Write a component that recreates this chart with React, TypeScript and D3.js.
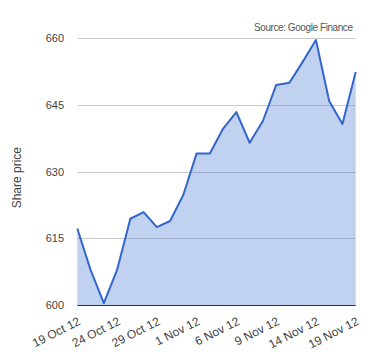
import React, { useEffect, useRef } from 'react';
import * as d3 from 'd3';

const dates: string[] = [
  '19 Oct 12', '22 Oct 12', '23 Oct 12', '24 Oct 12', '25 Oct 12', '26 Oct 12',
  '29 Oct 12', '30 Oct 12', '31 Oct 12', '1 Nov 12', '2 Nov 12', '5 Nov 12',
  '6 Nov 12', '7 Nov 12', '8 Nov 12', '9 Nov 12', '12 Nov 12', '13 Nov 12',
  '14 Nov 12', '15 Nov 12', '16 Nov 12', '19 Nov 12',
];

const prices: number[] = [
  617.2, 607.9, 600.4, 607.9, 619.4, 620.9, 617.5, 618.9, 624.8, 634.1, 634.1,
  639.7, 643.4, 636.5, 641.4, 649.5, 650.0, 654.7, 659.6, 645.9, 640.7, 652.4,
];

const xTickLabels: string[] = [
  '19 Oct 12', '24 Oct 12', '29 Oct 12', '1 Nov 12',
  '6 Nov 12', '9 Nov 12', '14 Nov 12', '19 Nov 12',
];

const yTicks: number[] = [600, 615, 630, 645, 660];

const font = 'Arial, "Liberation Sans", sans-serif';

const SharePriceChart: React.FC = () => {
  const svgRef = useRef<SVGSVGElement | null>(null);

  useEffect(() => {
    const width = 380;
    const height = 360;
    const left = 77.3;
    const right = 355.7;
    const top = 38.3;
    const bottom = 305;

    const svg = d3.select(svgRef.current);
    svg.selectAll('*').remove();
    svg.attr('width', width).attr('height', height);

    const x = d3.scalePoint<string>().domain(dates).range([left, right]);
    const y = d3.scaleLinear().domain([600, 660]).range([bottom, top]);

    // gridlines
    svg.append('g')
      .selectAll('line')
      .data(yTicks.filter(t => t !== 600))
      .enter()
      .append('line')
      .attr('x1', left)
      .attr('x2', right)
      .attr('y1', d => Math.round(y(d)) + 0.5)
      .attr('y2', d => Math.round(y(d)) + 0.5)
      .attr('stroke', '#cccccc')
      .attr('stroke-width', 1);

    const area = d3.area<number>()
      .x((d, i) => x(dates[i]) as number)
      .y0(y(600))
      .y1(d => y(d));

    const line = d3.line<number>()
      .x((d, i) => x(dates[i]) as number)
      .y(d => y(d));

    svg.append('path')
      .datum(prices)
      .attr('d', area)
      .attr('fill', '#3366cc')
      .attr('fill-opacity', 0.3);

    svg.append('path')
      .datum(prices)
      .attr('d', line)
      .attr('fill', 'none')
      .attr('stroke', '#3366cc')
      .attr('stroke-width', 2)
      .attr('stroke-linejoin', 'round');

    // baseline
    svg.append('line')
      .attr('x1', left)
      .attr('x2', right)
      .attr('y1', Math.round(y(600)) + 0.5)
      .attr('y2', Math.round(y(600)) + 0.5)
      .attr('stroke', '#333333')
      .attr('stroke-width', 1);

    // y tick labels
    svg.append('g')
      .selectAll('text')
      .data(yTicks)
      .enter()
      .append('text')
      .attr('x', 64)
      .attr('y', d => y(d) + 4)
      .attr('text-anchor', 'end')
      .style('font-family', font)
      .style('font-size', '11px')
      .style('fill', '#444444')
      .text(d => d);

    // x tick labels
    svg.append('g')
      .selectAll('text')
      .data(xTickLabels)
      .enter()
      .append('text')
      .attr('transform', d => `translate(${(x(d) as number) + 4},${bottom + 19}) rotate(-27)`)
      .attr('text-anchor', 'end')
      .style('font-family', font)
      .style('font-size', '12px')
      .style('fill', '#444444')
      .text(d => d);

    svg.append('text')
      .attr('transform', `translate(21,${(top + bottom) / 2 + 6}) rotate(-90)`)
      .attr('text-anchor', 'middle')
      .style('font-family', font)
      .style('font-size', '12px')
      .style('fill', '#444444')
      .text('Share price');

    svg.append('text')
      .attr('x', 353)
      .attr('y', 31)
      .attr('text-anchor', 'end')
      .attr('textLength', 99)
      .attr('lengthAdjust', 'spacing')
      .style('font-family', font)
      .style('font-size', '10px')
      .style('fill', '#555555')
      .text('Source: Google Finance');
  }, []);

  return <svg ref={svgRef} style={{ position: 'absolute', left: 0, top: 0 }}></svg>;
};

export default function App() {
  return <SharePriceChart />;
}
